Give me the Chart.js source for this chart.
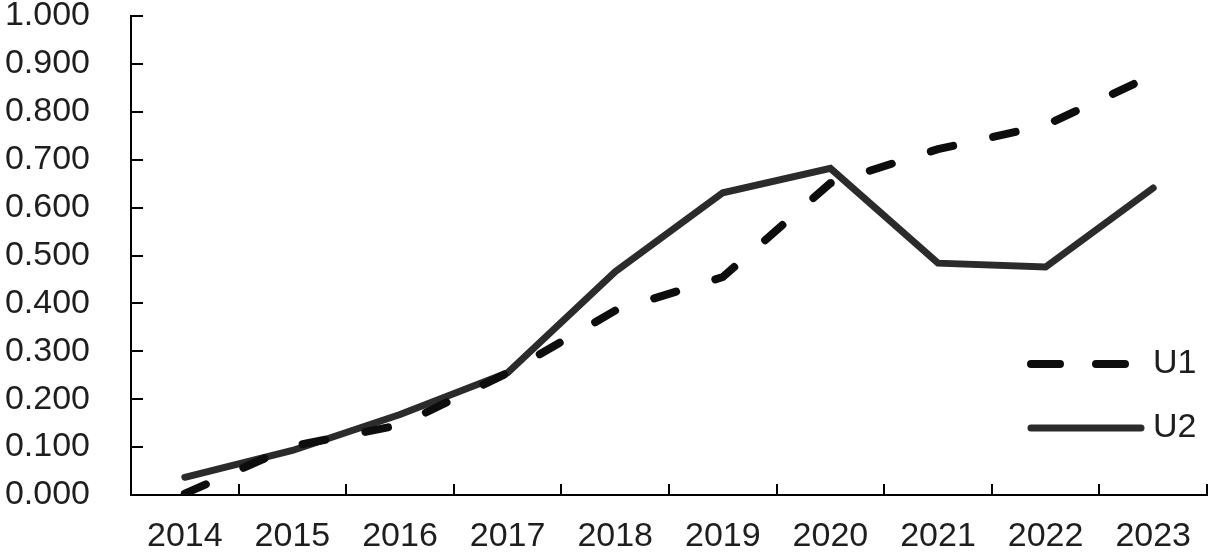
<!DOCTYPE html>
<html>
<head>
<meta charset="utf-8">
<script src="https://cdn.jsdelivr.net/npm/chart.js@4/dist/chart.umd.min.js"></script>
<style>
    html, body { margin: 0; padding: 0; background: #fff; }
    #wrap { width: 1213px; height: 555px; }
</style>
</head>
<body>
<div id="wrap"><canvas id="chart"></canvas></div>
<script>
var years = ['2014', '2015', '2016', '2017', '2018', '2019', '2020', '2021', '2022', '2023'];
var u1 = [0.003, 0.102, 0.146, 0.255, 0.385, 0.455, 0.651, 0.722, 0.772, 0.877];
var u2 = [0.037, 0.093, 0.168, 0.255, 0.466, 0.631, 0.682, 0.484, 0.476, 0.641];
var seriesNames = ['U1', 'U2'];

var textColor = '#1e1e1e';
var fontFamily = '"Liberation Sans", Arial, sans-serif';

// small tick marks pointing into the plot, like the original
var innerTicks = {
    id: 'innerTicks',
    beforeDatasetsDraw: function(chart) {
        var ctx = chart.ctx, a = chart.chartArea;
        var xs = chart.scales.x, ys = chart.scales.y;
        ctx.save();
        ctx.strokeStyle = '#000';
        ctx.lineWidth = 2;
        ctx.beginPath();
        for (var i = 1; i < ys.ticks.length; i++) {
            var py = Math.round(ys.getPixelForTick(i));
            ctx.moveTo(a.left, py);
            ctx.lineTo(a.left + 12, py);
        }
        for (var j = 1; j <= years.length; j++) {
            var px = Math.round(xs.getPixelForValue(j - 0.5));
            ctx.moveTo(px, a.bottom);
            ctx.lineTo(px, a.bottom - 11);
        }
        ctx.stroke();
        ctx.restore();
    }
};

// legend sits inside the plot, bottom right
var innerLegend = {
    id: 'innerLegend',
    afterDatasetsDraw: function(chart) {
        var ctx = chart.ctx, a = chart.chartArea;
        var rows = [a.bottom - 131, a.bottom - 67];
        ctx.save();
        chart.data.datasets.forEach(function(ds, i) {
            var y = rows[i];
            ctx.beginPath();
            ctx.strokeStyle = ds.borderColor;
            ctx.lineWidth = ds.borderWidth;
            ctx.lineCap = 'round';
            ctx.setLineDash(ds.borderDash ? [29, 36] : []);
            ctx.moveTo(a.right - 176, y);
            ctx.lineTo(a.right - 66, y);
            ctx.stroke();
            ctx.setLineDash([]);
            ctx.fillStyle = textColor;
            ctx.font = '34px ' + fontFamily;
            ctx.textBaseline = 'middle';
            ctx.textAlign = 'left';
            ctx.fillText(ds.label, a.right - 54, y);
        });
        ctx.restore();
    }
};

var ctx = document.getElementById('chart');
var chart = new Chart(ctx, {
    type: 'line',
    data: {
        labels: years,
        datasets: [
            {
                label: seriesNames[0],
                data: u1,
                borderColor: '#0d0d0d',
                borderWidth: 8,
                borderDash: [23, 41],
                borderCapStyle: 'round',
                pointRadius: 0,
                tension: 0,
                fill: false
            },
            {
                label: seriesNames[1],
                data: u2,
                borderColor: '#2b2b2b',
                borderWidth: 7,
                borderCapStyle: 'round',
                pointRadius: 0,
                tension: 0,
                fill: false
            }
        ]
    },
    options: {
        responsive: true,
        maintainAspectRatio: false,
        animation: false,
        layout: { padding: { top: 16, right: 6, left: 0, bottom: 0 } },
        plugins: {
            legend: { display: false },
            tooltip: { enabled: false }
        },
        scales: {
            x: {
                offset: true,
                grid: { display: false, drawTicks: false },
                border: { display: true, color: '#000', width: 2 },
                ticks: {
                    color: textColor,
                    padding: 25,
                    maxRotation: 0,
                    font: { family: fontFamily, size: 34, lineHeight: 1 }
                },
                afterFit: function(scale) {
                    scale.height = 60;
                    scale.paddingLeft = 0;
                    scale.paddingRight = 0;
                }
            },
            y: {
                min: 0,
                max: 1,
                grid: { display: false, drawTicks: false },
                border: { display: true, color: '#000', width: 2 },
                ticks: {
                    stepSize: 0.1,
                    color: textColor,
                    padding: 41,
                    font: { family: fontFamily, size: 34, lineHeight: 0.9 },
                    callback: function(v) { return Number(v).toFixed(3); }
                },
                afterFit: function(scale) {
                    scale.width = 131;
                    scale.paddingTop = 0;
                    scale.paddingBottom = 0;
                }
            }
        }
    },
    plugins: [innerTicks, innerLegend]
});
</script>
</body>
</html>
